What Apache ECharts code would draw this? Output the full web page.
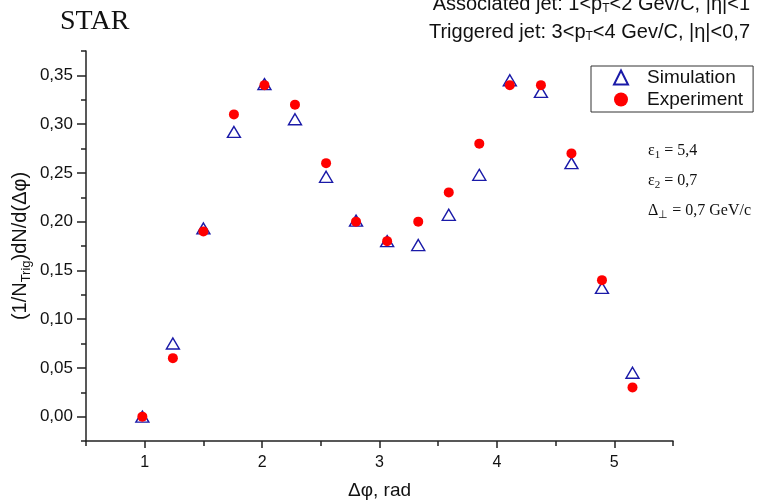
<!DOCTYPE html>
<html>
<head>
<meta charset="utf-8">
<script src="https://cdn.jsdelivr.net/npm/echarts@6/dist/echarts.min.js"></script>
<style>
html,body{margin:0;padding:0;background:#fff;}
#chart{width:760px;height:502px;}
</style>
</head>
<body>
<div id="chart"></div>
<script>
// Data
const dphi = [0.98, 1.24, 1.50, 1.76, 2.02, 2.28, 2.545, 2.80, 3.065, 3.33, 3.59, 3.85, 4.11, 4.375, 4.635, 4.895, 5.155];
const simulation = [0.000, 0.075, 0.193, 0.292, 0.341, 0.305, 0.246, 0.201, 0.180, 0.176, 0.207, 0.248, 0.345, 0.333, 0.260, 0.132, 0.045];
const experiment = [0.000, 0.060, 0.190, 0.310, 0.340, 0.320, 0.260, 0.200, 0.180, 0.200, 0.230, 0.280, 0.340, 0.340, 0.270, 0.140, 0.030];
const yMajorTicks = [0, 0.05, 0.10, 0.15, 0.20, 0.25, 0.30, 0.35];
const xMajorTicks = [1, 2, 3, 4, 5];

const simData = dphi.map((x, i) => [x, simulation[i]]);
const expData = dphi.map((x, i) => [x, experiment[i]]);

const SANS = 'Liberation Sans, Arial, sans-serif';
const SERIF = 'Liberation Serif, Times New Roman, serif';
const AX = '#222';

const chart = echarts.init(document.getElementById('chart'), null, {renderer: 'canvas'});

const option = {
  backgroundColor: '#fff',
  animation: false,
  grid: {left: 86, right: 87, top: 51, bottom: 61, containLabel: false, outerBoundsMode: 'none'},
  legend: {
    orient: 'vertical',
    left: 591, top: 66,
    borderColor: '#333', borderWidth: 1,
    padding: [2, 10, 3, 22],
    itemWidth: 14, itemHeight: 14, itemGap: 3,
    textStyle: {fontFamily: SANS, fontSize: 19, color: '#111', padding: [0, 0, 0, 14]},
    data: ['Simulation', 'Experiment']
  },
  xAxis: [{
    type: 'value', min: 0.5, max: 5.5, interval: 0.5,
    position: 'bottom',
    axisLine: {show: true, onZero: false, lineStyle: {color: AX, width: 1.5}},
    axisTick: {show: true, inside: false, length: 5, lineStyle: {color: AX, width: 1.5}},
    axisLabel: {show: false},
    splitLine: {show: false}
  }, {
    type: 'value', min: 0.5, max: 5.5,
    position: 'bottom',
    axisLine: {show: false, onZero: false},
    axisTick: {show: true, inside: false, length: 7, customValues: xMajorTicks, lineStyle: {color: AX, width: 1.5}},
    axisLabel: {show: true, customValues: xMajorTicks, margin: 14, fontFamily: SANS, fontSize: 16, color: '#111'},
    splitLine: {show: false},
    name: 'Δφ, rad', nameLocation: 'middle', nameGap: 40,
    nameTextStyle: {fontFamily: SANS, fontSize: 19, color: '#111'}
  }],
  yAxis: [{
    type: 'value', min: -0.025, max: 0.375, interval: 0.025,
    position: 'left',
    axisLine: {show: true, onZero: false, lineStyle: {color: AX, width: 1.5}},
    axisTick: {show: true, inside: false, length: 5, lineStyle: {color: AX, width: 1.5}},
    axisLabel: {show: false},
    splitLine: {show: false}
  }, {
    type: 'value', min: -0.025, max: 0.375,
    position: 'left',
    axisLine: {show: false, onZero: false},
    axisTick: {show: true, inside: false, length: 9, customValues: yMajorTicks, lineStyle: {color: AX, width: 1.5}},
    axisLabel: {show: true, customValues: yMajorTicks, margin: 13, fontFamily: SANS, fontSize: 17, color: '#111',
      formatter: v => v.toFixed(2).replace('.', ',')},
    splitLine: {show: false},
    name: '(1/N{sub|Trig})dN/d(Δφ)', nameLocation: 'middle', nameGap: 53, nameRotate: 90,
    nameMoveOverlap: false,
    nameTextStyle: {fontFamily: SANS, fontSize: 20, color: '#111',
      rich: {sub: {fontFamily: SANS, fontSize: 13, color: '#111', padding: [12, 0, 0, 0]}}}
  }],
  series: [{
    name: 'Simulation', type: 'scatter', xAxisIndex: 0, yAxisIndex: 0,
    symbol: 'triangle', symbolSize: [13, 11],
    itemStyle: {color: 'rgba(255,255,255,0)', borderColor: '#1a1aa8', borderWidth: 1.4, opacity: 1},
    data: simData, z: 2
  }, {
    name: 'Experiment', type: 'scatter', xAxisIndex: 0, yAxisIndex: 0,
    symbol: 'circle', symbolSize: 10,
    itemStyle: {color: '#ff0000', opacity: 1},
    data: expData, z: 3
  }],
  graphic: [
    {type: 'text', left: 60, top: 8, style: {text: 'STAR', font: '28px ' + SERIF, fill: '#111'}},
    {type: 'text', right: 10, top: -6, style: {
      text: 'Associated jet: 1<p{sub|T}<2 Gev/C, |η|<1', font: '20px ' + SANS, fill: '#111',
      rich: {sub: {fontFamily: SANS, fontSize: 12, fill: '#111', padding: [10, 0, 0, 0]}}}},
    {type: 'text', right: 10, top: 22, style: {
      text: 'Triggered jet: 3<p{sub|T}<4 Gev/C, |η|<0,7', font: '20px ' + SANS, fill: '#111',
      rich: {sub: {fontFamily: SANS, fontSize: 12, fill: '#111', padding: [10, 0, 0, 0]}}}},
    {type: 'text', left: 648, top: 143, style: {
      text: 'ε{sub|1} = 5,4', font: '16px ' + SERIF, fill: '#111',
      rich: {sub: {fontFamily: SERIF, fontSize: 11, fill: '#111', padding: [9, 0, 0, 0]}}}},
    {type: 'text', left: 648, top: 173, style: {
      text: 'ε{sub|2} = 0,7', font: '16px ' + SERIF, fill: '#111',
      rich: {sub: {fontFamily: SERIF, fontSize: 11, fill: '#111', padding: [9, 0, 0, 0]}}}},
    {type: 'text', left: 648, top: 203, style: {
      text: 'Δ{sub|⊥} = 0,7 GeV/c', font: '16px ' + SERIF, fill: '#111',
      rich: {sub: {fontFamily: SERIF, fontSize: 11, fill: '#111', padding: [9, 0, 0, 0]}}}}
  ]
};
chart.setOption(option);
</script>
</body>
</html>
